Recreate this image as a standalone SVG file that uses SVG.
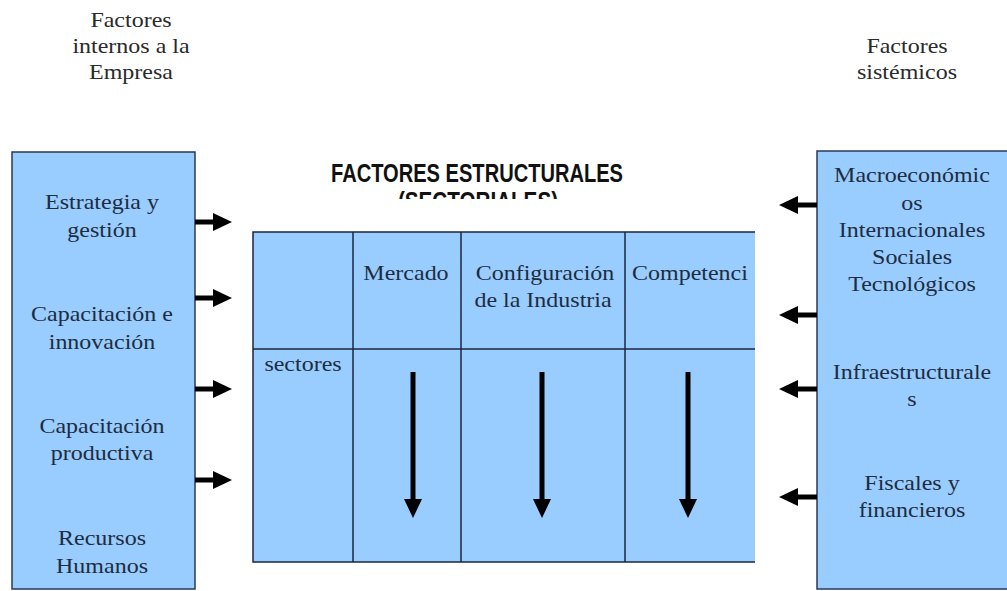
<svg xmlns="http://www.w3.org/2000/svg" width="1007" height="591" viewBox="0 0 1007 591">
<style>
.box{fill:#99ccff;stroke:#2a3a55;stroke-width:1.5}
.grid{stroke:#1c2640;stroke-width:1.5;fill:none}
.t{font-family:"Liberation Serif","Times New Roman",serif;font-size:20px;fill:#1e2c3e;text-anchor:middle}
.tl{font-family:"Liberation Serif","Times New Roman",serif;font-size:20px;fill:#2a2a2a;text-anchor:middle}
.ts{font-family:"Liberation Serif","Times New Roman",serif;font-size:20px;fill:#1e2c3e;text-anchor:start}
.hd{font-family:"Liberation Sans",Arial,sans-serif;font-weight:bold;font-size:25px;fill:#111;text-anchor:start}
.arr{stroke:#000;stroke-width:5;fill:none}
</style>
<defs>
<marker id="ah" markerUnits="userSpaceOnUse" markerWidth="19" markerHeight="18" viewBox="0 0 19 18" refX="0" refY="9" orient="auto">
<path d="M0,0 L19,9 L0,18 z" fill="#000"/>
</marker>
<clipPath id="clipTitle"><rect x="0" y="0" width="1007" height="199"/></clipPath>
</defs>
<rect width="1007" height="591" fill="#fff"/>

<g id="label-internos">
<text class="tl" transform="translate(131,27) scale(1.2,1)">Factores</text>
<text class="tl" transform="translate(131,53) scale(1.2,1)">internos a la</text>
<text class="tl" transform="translate(131,79) scale(1.2,1)">Empresa</text>
</g>
<g id="label-sistemicos">
<text class="tl" transform="translate(907,53) scale(1.2,1)">Factores</text>
<text class="tl" transform="translate(907,79) scale(1.2,1)">sistémicos</text>
</g>

<g id="box-internos">
<rect class="box" x="12" y="152" width="183" height="437"/>
<text class="t" transform="translate(102,209) scale(1.2,1)">Estrategia y</text>
<text class="t" transform="translate(102,237) scale(1.2,1)">gestión</text>
<text class="t" transform="translate(102,321) scale(1.2,1)">Capacitación e</text>
<text class="t" transform="translate(102,349) scale(1.2,1)">innovación</text>
<text class="t" transform="translate(102,433) scale(1.2,1)">Capacitación</text>
<text class="t" transform="translate(102,460) scale(1.2,1)">productiva</text>
<text class="t" transform="translate(102,545) scale(1.2,1)">Recursos</text>
<text class="t" transform="translate(102,573) scale(1.2,1)">Humanos</text>
</g>

<g id="box-sistemicos">
<rect class="box" x="817" y="151" width="200" height="438"/>
<text class="t" transform="translate(912,182) scale(1.2,1)">Macroeconómic</text>
<text class="t" transform="translate(912,210) scale(1.2,1)">os</text>
<text class="t" transform="translate(912,237) scale(1.2,1)">Internacionales</text>
<text class="t" transform="translate(912,264) scale(1.2,1)">Sociales</text>
<text class="t" transform="translate(912,291) scale(1.2,1)">Tecnológicos</text>
<text class="t" transform="translate(912,379) scale(1.2,1)">Infraestructurale</text>
<text class="t" transform="translate(912,406) scale(1.2,1)">s</text>
<text class="t" transform="translate(912,490) scale(1.2,1)">Fiscales y</text>
<text class="t" transform="translate(912,517) scale(1.2,1)">financieros</text>
</g>

<g id="title-estructurales">
<text class="hd" x="331" y="182" textLength="292" lengthAdjust="spacingAndGlyphs">FACTORES ESTRUCTURALES</text>
<text class="hd" x="398" y="210" textLength="160" lengthAdjust="spacingAndGlyphs" clip-path="url(#clipTitle)">(SECTORIALES)</text>
</g>

<g id="table-estructurales">
<rect x="253" y="232" width="502" height="330" fill="#99ccff"/>
<path class="grid" d="M755,232 H253 V562 H755 M253,349 H755 M353,232 V562 M461,232 V562 M625,232 V562"/>
<text class="t" transform="translate(406,280) scale(1.2,1)">Mercado</text>
<text class="t" transform="translate(545,280) scale(1.2,1)">Configuración</text>
<text class="t" transform="translate(543,307) scale(1.2,1)">de la Industria</text>
<text class="ts" transform="translate(632,280) scale(1.2,1)">Competenci</text>
<text class="t" transform="translate(303,371) scale(1.2,1)">sectores</text>
</g>

<g id="connectors">
<line class="arr" x1="195" y1="222" x2="213" y2="222" marker-end="url(#ah)"/>
<line class="arr" x1="195" y1="298" x2="213" y2="298" marker-end="url(#ah)"/>
<line class="arr" x1="195" y1="389" x2="213" y2="389" marker-end="url(#ah)"/>
<line class="arr" x1="195" y1="480" x2="213" y2="480" marker-end="url(#ah)"/>
<line class="arr" x1="817" y1="205" x2="798" y2="205" marker-end="url(#ah)"/>
<line class="arr" x1="817" y1="315" x2="798" y2="315" marker-end="url(#ah)"/>
<line class="arr" x1="817" y1="389" x2="798" y2="389" marker-end="url(#ah)"/>
<line class="arr" x1="817" y1="497" x2="798" y2="497" marker-end="url(#ah)"/>
<line class="arr" x1="413" y1="372" x2="413" y2="499" marker-end="url(#ah)"/>
<line class="arr" x1="542" y1="372" x2="542" y2="499" marker-end="url(#ah)"/>
<line class="arr" x1="688" y1="372" x2="688" y2="499" marker-end="url(#ah)"/>
</g>
</svg>
